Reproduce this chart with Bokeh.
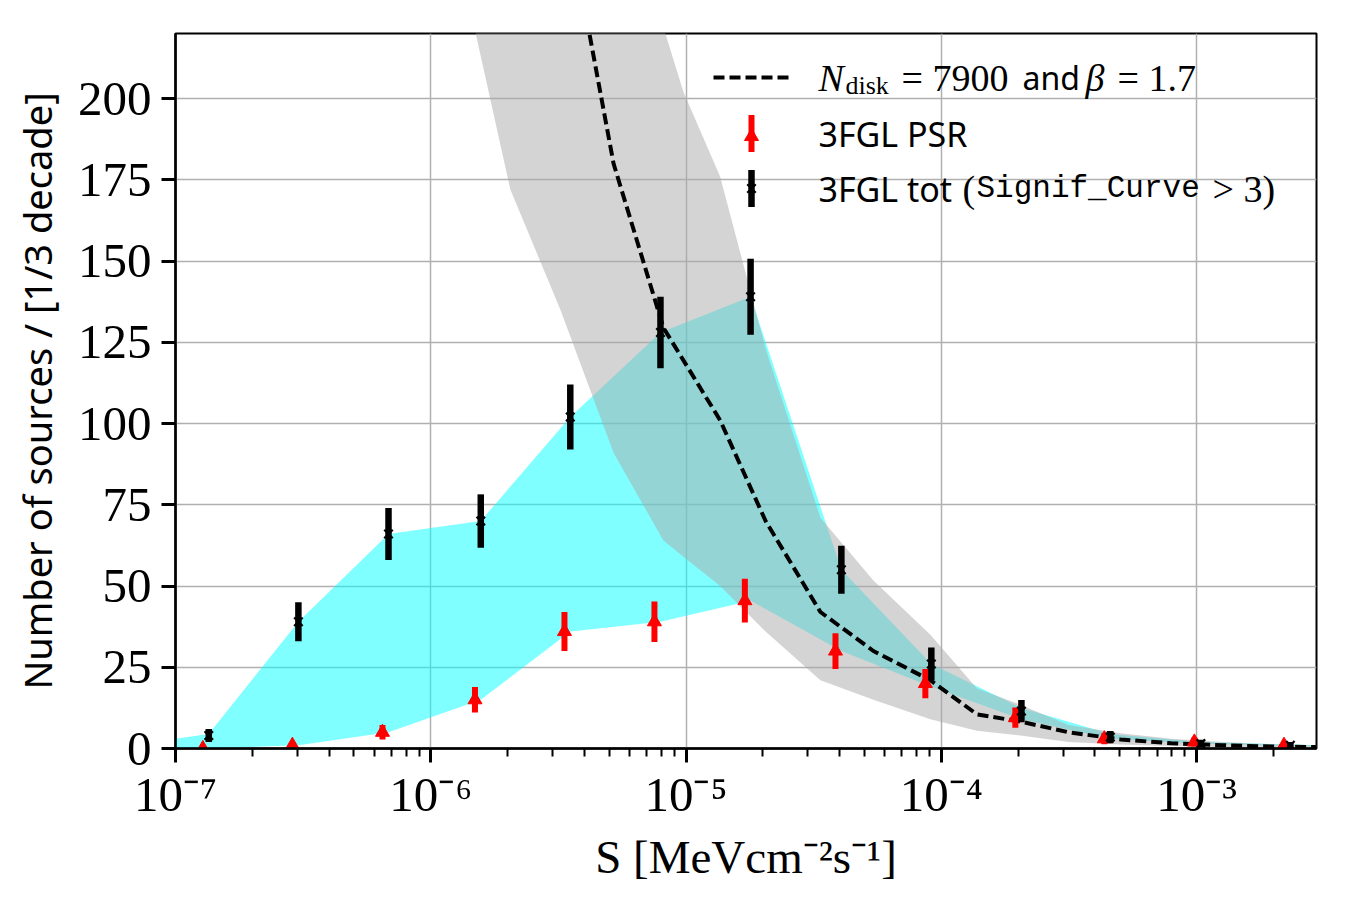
import numpy as np
from bokeh.plotting import figure
from bokeh.models import Range1d, FixedTicker, CustomJSTickFormatter, Label, LinearScale
from bokeh.embed import file_html
from bokeh.resources import INLINE

# ---------------- data ----------------
# 3FGL total (Signif_Curve > 3)
tot_S = [1.35e-7, 3.03e-7, 6.83e-7, 1.57e-6, 3.52e-6, 7.94e-6, 1.79e-5,
         4.06e-5, 9.14e-5, 2.06e-4, 4.59e-4, 1.04e-3, 2.33e-3]
tot_N = [4, 39, 66, 70, 102, 128, 139, 55, 26, 11.5, 3.5, 1.5, 1]
tot_err = [2, 6, 8, 8.2, 10, 11, 11.7, 7.4, 5.1, 3.4, 1.9, 1.2, 1]

# 3FGL PSR
psr_S = [1.28e-7, 2.87e-7, 6.47e-7, 1.49e-6, 3.34e-6, 7.52e-6, 1.70e-5,
         3.85e-5, 8.66e-5, 1.95e-4, 4.35e-4, 9.8e-4, 2.2e-3]
psr_N = [0, 1, 5, 15, 36, 39, 45.5, 30, 20, 9.5, 3, 2, 1]
psr_err = [0, 1, 2.2, 3.9, 6, 6.2, 6.7, 5.5, 4.5, 3.1, 1.7, 1.4, 1]

# cyan band (PSR .. total)
cyan_S = [1.0e-7, 1.35e-7, 3.03e-7, 6.83e-7, 1.57e-6, 3.52e-6, 7.94e-6, 1.79e-5,
          4.06e-5, 9.14e-5, 2.06e-4, 4.59e-4, 1.04e-3, 2.33e-3, 2.95e-3]
cyan_low = [0, 0, 1, 5, 15, 36, 39, 45.5, 30, 19, 9, 3, 1.5, 0.8, 0.7]
cyan_high = [3, 4.5, 39, 66, 70, 102, 128, 139, 55, 26, 12.5, 4.5, 2, 1.2, 1.0]

# model N_disk = 7900, beta = 1.7 : central line and grey band
model_S = [3.22e-6, 5.20e-6, 8.15e-6, 1.36e-5, 2.05e-5, 3.36e-5, 5.42e-5, 9.06e-5,
           1.38e-4, 2.04e-4, 3.15e-4, 5.04e-4, 7.96e-4, 1.26e-3, 2.00e-3, 3.16e-3]
model_N = [268, 180, 129.5, 101, 70, 42, 30, 21, 10.5, 8.3, 5, 2.8, 1.6, 1.0, 0.6, 0.4]

band_S = [1.09e-6, 1.50e-6, 2.05e-6, 3.22e-6, 5.20e-6, 8.15e-6, 9.77e-6, 1.36e-5,
          2.05e-5, 3.36e-5, 5.42e-5, 9.06e-5, 1.38e-4, 2.04e-4, 3.15e-4, 5.04e-4,
          7.96e-4, 1.26e-3, 2.00e-3, 3.16e-3]
band_low = [268, 220, 172, 135, 91, 64, 59, 50, 36, 21, 15, 9, 5.5, 4, 2, 1.2,
            0.8, 0.5, 0.3, 0.2]
band_high = [400, 370, 340, 290, 250, 222, 202, 176, 123, 71, 51.7, 35, 18.5,
             13.5, 7.2, 4.7, 3, 2, 1.3, 0.9]

y_ticks = [0, 25, 50, 75, 100, 125, 150, 175, 200]
x_decades = [-7, -6, -5, -4, -3]

# ---------------- figure ----------------
FRAME_W, FRAME_H = 1141, 715
p = figure(width=1350, height=900, x_axis_type="log",
           x_range=Range1d(1e-7, 2.95e-3), y_range=Range1d(0, 220),
           min_border_left=175, min_border_right=34, min_border_top=33,
           min_border_bottom=152, output_backend="svg", toolbar_location=None)
p.extra_x_ranges = {"fx": Range1d(0, FRAME_W)}
p.extra_y_ranges = {"fy": Range1d(0, FRAME_H)}
p.extra_x_scales = {"fx": LinearScale()}
p.extra_y_scales = {"fy": LinearScale()}

p.background_fill_color = "white"
p.border_fill_color = "white"
p.outline_line_color = "black"
p.outline_line_width = 2

# axes / ticks
majors = [10.0 ** e for e in x_decades]
minors = [m * 10.0 ** e for e in range(-7, -2) for m in range(2, 10) if m * 10.0 ** e <= 2.95e-3]
p.xaxis.ticker = FixedTicker(ticks=majors, minor_ticks=minors)
p.xaxis.formatter = CustomJSTickFormatter(code="""
const e = Math.round(Math.log10(tick));
const sup = {"-": "\u207b", "0": "\u2070", "1": "\u00b9", "2": "\u00b2", "3": "\u00b3",
             "4": "\u2074", "5": "\u2075", "6": "\u2076", "7": "\u2077", "8": "\u2078", "9": "\u2079"};
return "10" + String(e).split("").map(c => sup[c]).join("");
""")
p.yaxis.ticker = FixedTicker(ticks=y_ticks)
p.ygrid.ticker = FixedTicker(ticks=y_ticks)
p.xgrid.ticker = FixedTicker(ticks=majors)

for ax in (p.xaxis[0], p.yaxis[0]):
    ax.axis_line_width = 2.5
    ax.axis_line_color = "black"
    ax.major_tick_in = 0
    ax.major_tick_out = 14
    ax.major_tick_line_width = 3
    ax.major_tick_line_color = "black"
    ax.minor_tick_in = 0
    ax.minor_tick_out = 8
    ax.minor_tick_line_width = 2
    ax.major_label_text_font = "Liberation Serif"
    ax.major_label_text_font_size = "49px"
    ax.major_label_text_color = "black"
p.xaxis.major_label_standoff = 4
p.yaxis.major_label_standoff = 10
p.yaxis.minor_tick_line_color = None

p.yaxis.axis_label = "Number of sources / [1/3 decade]"
p.yaxis.axis_label_text_font = "Noto Sans"
p.yaxis.axis_label_text_font_size = "38px"
p.yaxis.axis_label_text_font_style = "normal"
p.yaxis.axis_label_text_color = "black"
p.yaxis.axis_label_standoff = 12

p.xaxis.axis_label = "S [MeVcm\u207b\u00b2s\u207b\u00b9]"
p.xaxis.axis_label_text_font = "Liberation Serif"
p.xaxis.axis_label_text_font_size = "47px"
p.xaxis.axis_label_text_font_style = "normal"
p.xaxis.axis_label_text_color = "black"
p.xaxis.axis_label_standoff = 6

for g in (p.xgrid[0], p.ygrid[0]):
    g.grid_line_color = "#b0b0b0"
    g.grid_line_width = 1.5

# ---------------- data glyphs ----------------
DASH = "11 5"
p.varea(x=cyan_S, y1=cyan_low, y2=cyan_high, fill_color="cyan", fill_alpha=0.5)
p.varea(x=band_S, y1=band_low, y2=band_high, fill_color="darkgray", fill_alpha=0.5)
p.line(model_S, model_N, line_color="black", line_width=4, line_dash=DASH)

psr_lo = np.array(psr_N) - np.array(psr_err)
psr_hi = np.array(psr_N) + np.array(psr_err)
p.segment(x0=psr_S, y0=psr_lo, x1=psr_S, y1=psr_hi, line_color="red", line_width=6)
p.scatter(psr_S, psr_N, marker="triangle", size=14, fill_color="red", line_color="red")

tot_lo = np.array(tot_N) - np.array(tot_err)
tot_hi = np.array(tot_N) + np.array(tot_err)
p.segment(x0=tot_S, y0=tot_lo, x1=tot_S, y1=tot_hi, line_color="black", line_width=6.5)
p.scatter(tot_S, tot_N, marker="x", size=12, line_color="black", line_width=2.2)

# ---------------- legend (frame pixel coordinates) ----------------
LX_SAMPLE0, LX_SAMPLE1, LX_MARK, LX_TEXT = 538, 615, 576, 643
ROW_Y = [671, 615, 560]
HALF_BAR = 18.5

p.line([LX_SAMPLE0, LX_SAMPLE1], [ROW_Y[0], ROW_Y[0]], x_range_name="fx", y_range_name="fy",
       line_color="black", line_width=4, line_dash=DASH)
p.segment(x0=[LX_MARK], y0=[ROW_Y[1] - HALF_BAR], x1=[LX_MARK], y1=[ROW_Y[1] + HALF_BAR],
          x_range_name="fx", y_range_name="fy", line_color="red", line_width=6)
p.scatter([LX_MARK], [ROW_Y[1] - 3], x_range_name="fx", y_range_name="fy",
          marker="triangle", size=14, fill_color="red", line_color="red")
p.segment(x0=[LX_MARK], y0=[ROW_Y[2] - HALF_BAR], x1=[LX_MARK], y1=[ROW_Y[2] + HALF_BAR],
          x_range_name="fx", y_range_name="fy", line_color="black", line_width=6.5)
p.scatter([LX_MARK], [ROW_Y[2]], x_range_name="fx", y_range_name="fy",
          marker="x", size=12, line_color="black", line_width=2.2)


def lab(text, x, y, font, size, style="normal"):
    p.add_layout(Label(x=x, y=y, x_units="screen", y_units="screen", text=text,
                       text_font=font, text_font_size=size, text_font_style=style,
                       text_color="black", text_baseline="middle", text_align="left"))


SERIF, SANS, MONO = "Liberation Serif", "Noto Sans", "Liberation Mono"
# row 1
lab("N", LX_TEXT, ROW_Y[0], SERIF, "38px", "italic")
lab("disk", 670, ROW_Y[0] - 8, SERIF, "26px")
lab("= 7900", 726, ROW_Y[0], SERIF, "38px")
lab("and", 847, ROW_Y[0], SANS, "32px")
lab("\u03b2", 910, ROW_Y[0], SERIF, "38px", "italic")
lab("= 1.7", 942, ROW_Y[0], SERIF, "38px")
# row 2
lab("3FGL PSR", LX_TEXT, ROW_Y[1], SANS, "34px")
# row 3
lab("3FGL tot", LX_TEXT, ROW_Y[2], SANS, "34px")
lab("(", 787, ROW_Y[2], SERIF, "38px")
lab("Signif_Curve", 801, ROW_Y[2], MONO, "31px")
lab("> 3)", 1037, ROW_Y[2], SERIF, "38px")

open("out.html", "w").write(file_html(p, INLINE))
